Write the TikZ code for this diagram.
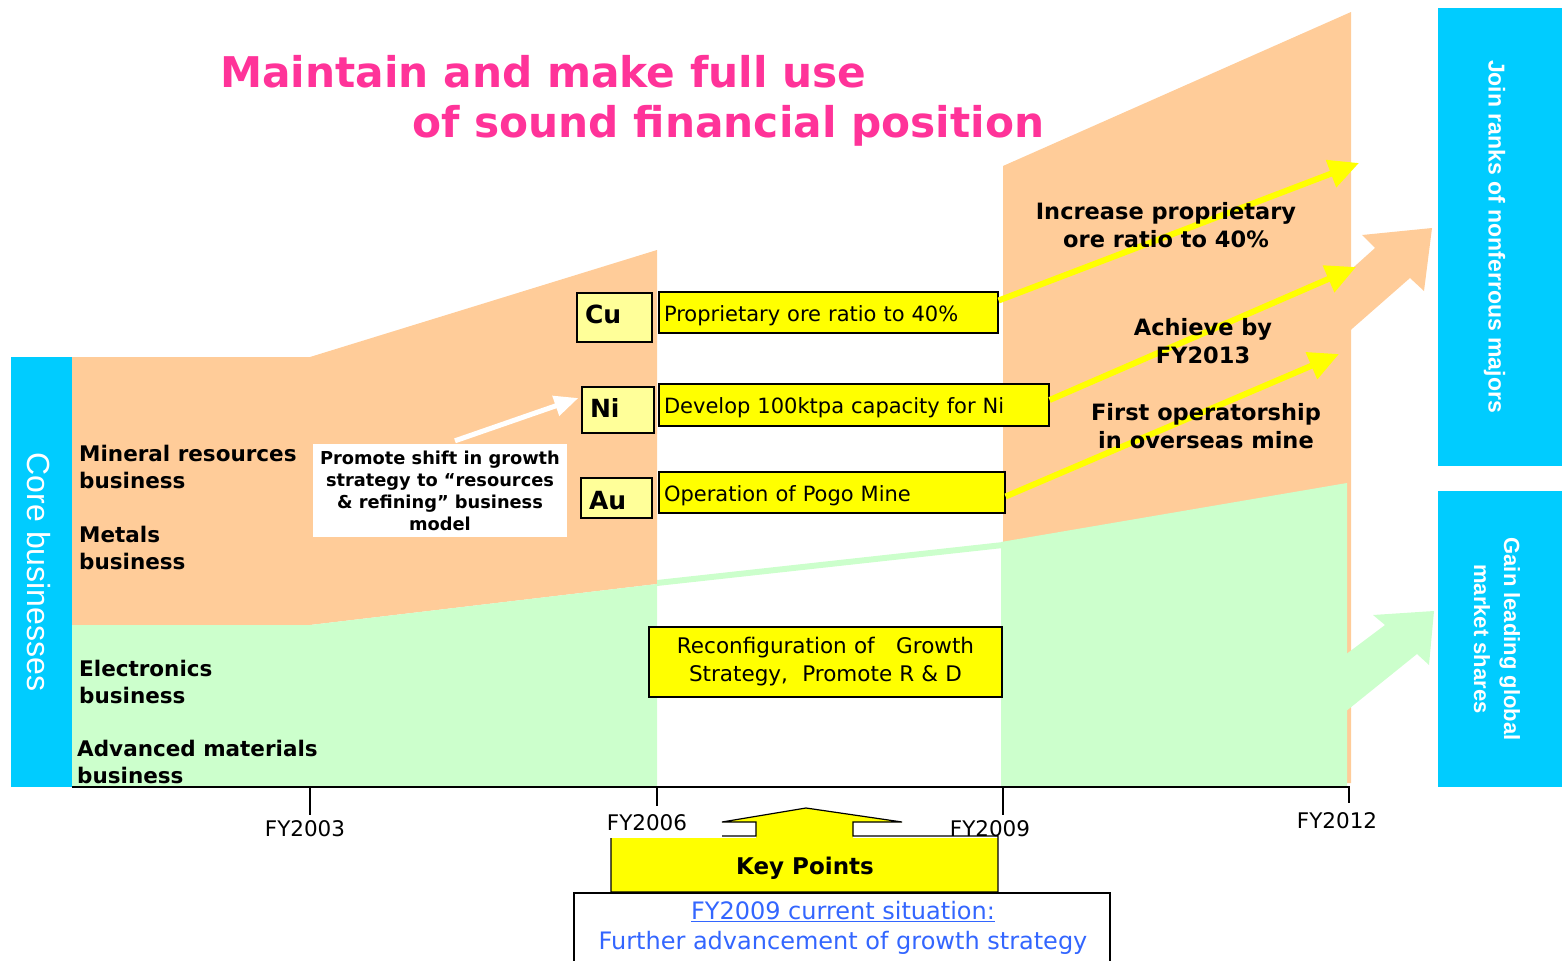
\documentclass[tikz,border=0pt]{standalone}
\usepackage{fontspec}
\setmainfont{DejaVu Sans}
\newfontfamily\sidefont{Liberation Sans}
\usetikzlibrary{arrows.meta}
\usetikzlibrary{calc}

\definecolor{orefill}{RGB}{255,204,153}
\definecolor{matfill}{RGB}{204,255,204}
\definecolor{sidecyan}{RGB}{0,204,255}
\definecolor{goalyellow}{RGB}{255,255,0}
\definecolor{elemyellow}{RGB}{255,255,153}
\definecolor{titlepink}{RGB}{255,51,153}
\definecolor{noteblue}{RGB}{51,102,255}

\tikzset{
  bizlabel/.style={anchor=base west, inner sep=0pt, align=left,
    font=\fontsize{21.5}{26.5}\selectfont\bfseries},
  aimlabel/.style={anchor=base, inner sep=0pt, align=center,
    font=\fontsize{22.5}{28}\selectfont\bfseries},
  yearlabel/.style={anchor=base, inner sep=0pt, font=\fontsize{21.5}{21.5}\selectfont},
  sidetext/.style={rotate=-90, inner sep=0pt, text=white, align=center},
  elembox/.style={draw, line width=1.2pt, fill=elemyellow, inner xsep=8pt, align=left,
    font=\fontsize{25}{25}\selectfont\bfseries},
  goalbox/.style={draw, line width=1.2pt, fill=goalyellow, inner xsep=5pt, align=left,
    font=\fontsize{21}{21}\selectfont},
  goalarrow/.style={goalyellow, line width=6pt, -{Triangle[length=30pt,width=28pt]}},
  shiftarrow/.style={white, line width=5pt, -{Triangle[length=24pt,width=20pt]}},
  tick/.style={line width=2.2pt}
}

\begin{document}
\begin{tikzpicture}[x=1pt,y=1pt,yscale=-1,xscale=1]
\clip (0,0) rectangle (1567,961);

%Shape: Rectangle (core bar)
\fill[sidecyan] (11,357) rectangle (72,787);
%Shape: Rectangles (goal bars)
\fill[sidecyan] (1438,8) rectangle (1562,466);
\fill[sidecyan] (1438,491) rectangle (1562,787);

%Shape: Polygon (resources and metals)
\fill[orefill] (72,357) -- (310,357) -- (657,250) -- (657,584) -- (310,625) -- (72,625) -- cycle;
\fill[orefill] (1003,166) -- (1351,12) -- (1351,783) -- (1003,783) -- cycle;
\fill[orefill] (1345,275) -- (1375,248) -- (1362,235) -- (1432,228) -- (1424,291) -- (1410,278) -- (1345,335) -- cycle;
%Shape: Polygon (electronics and materials)
\fill[matfill] (72,625) -- (310,625) -- (657,584) -- (657,787) -- (72,787) -- cycle;
\fill[matfill] (657,580) -- (1003,542) -- (1003,548) -- (657,586) -- cycle;
\fill[matfill] (1001,542) -- (1347,483) -- (1347,787) -- (1001,787) -- cycle;
\fill[matfill] (1345,655) -- (1385,625) -- (1373,615) -- (1434,611) -- (1429,665) -- (1417,654) -- (1345,712) -- cycle;

%Straight Lines (year axis)
\draw[line width=1.8pt] (72,787) -- (1350,787);
\draw[tick] (310,787) -- (310,815);
\draw[tick] (657,787) -- (657,806);
\draw[tick] (1003,787) -- (1003,815);
\draw[tick] (1349,787) -- (1349,803);

% Text Node
\node[yearlabel] (fy03) at (305,836) {FY2003};
\node[yearlabel] (fy06) at (647,830) {FY2006};
\node[yearlabel] (fy09) at (990,836) {FY2009};
\node[yearlabel] (fy12) at (1337,828) {FY2012};

%Shape: Up Arrow Callout
\fill[goalyellow] (611,838) rectangle (998,892);
\fill[goalyellow] (722,822) -- (806,808) -- (902,822) -- (853,822) -- (853,838) -- (756,838) -- (756,822) -- cycle;
\draw[line width=1.2pt] (722,836) -- (756,836) -- (756,822) -- (722,822) -- (806,808) -- (902,822) -- (853,822) -- (853,836) -- (998,836) -- (998,892) -- (611,892) -- (611,838);
\node[anchor=base, inner sep=0pt, font=\fontsize{23}{23}\selectfont\bfseries] (keyPoints) at (805,874) {Key Points};

%Shape: Rectangle (situation)
\draw[line width=1.2pt, fill=white] (574,893) rectangle (1110,980);
\node[anchor=base, inner sep=0pt, align=center, text=noteblue, font=\fontsize{24}{30}\selectfont] (situation) at (843,949)
  {\underline{FY2009 current situation:}\\Further advancement of growth strategy};

% Element boxes
\node[elembox, minimum width=75pt, minimum height=49pt, text width=59pt, text height=18pt, text depth=7pt] (cuElem) at (614.5,317.5) {Cu};
\node[elembox, minimum width=72pt, minimum height=46pt, text width=56pt, text height=18pt, text depth=3.4pt] (niElem) at (618,410) {Ni};
\node[elembox, minimum width=71pt, minimum height=40pt, text width=55pt, text height=22pt, text depth=0pt] (auElem) at (616.5,498) {Au};

% Goal boxes
\node[goalbox, minimum width=339pt, minimum height=41pt, text width=329pt, text height=18.4pt, text depth=0pt] (cuGoal) at (828.5,312.5) {Proprietary ore ratio to 40\%};
\node[goalbox, minimum width=390pt, minimum height=42pt, text width=380pt, text height=16.6pt, text depth=0pt] (niGoal) at (854,405) {Develop 100ktpa capacity for Ni};
\node[goalbox, minimum width=346pt, minimum height=41pt, text width=336pt, text height=18.4pt, text depth=0pt] (auGoal) at (832,492.5) {Operation of Pogo Mine};
\node[goalbox, align=center, minimum width=353pt, minimum height=70pt, text width=343pt,
  font=\fontsize{21.5}{28}\selectfont] (rdGoal) at (825.5,662) {Reconfiguration of\ \ \ Growth\\Strategy,\ \ Promote R \& D};

% Shift box
\node[fill=white, minimum width=254pt, minimum height=93pt, inner sep=0pt, align=center,
  font=\fontsize{17.8}{22}\selectfont\bfseries] (shiftBox) at (440,490.5)
  {Promote shift in growth\\strategy to \textquotedblleft resources\\\& refining\textquotedblright{} business\\model};
\draw[shiftarrow] ($(shiftBox.north)+(15,-3)$) -- ($(niElem.west)+(-3,-12)$);

% Arrows to targets
\coordinate (cuTarget) at (1359,163);
\coordinate (niTarget) at (1356,267);
\coordinate (auTarget) at (1339,354);
\draw[goalarrow] ($(cuGoal.east)+(0,-12)$) -- (cuTarget);
\draw[goalarrow] ($(niGoal.east)+(0,-5)$) -- (niTarget);
\draw[goalarrow] ($(auGoal.east)+(0,4)$) -- (auTarget);

% Text Node
\node[bizlabel] (mineral) at (79,488) {Mineral resources\\business};
\node[bizlabel] (metals) at (79,569) {Metals\\business};
\node[bizlabel] (electronics) at (79,703) {Electronics\\business};
\node[bizlabel] (advanced) at (77,783) {Advanced materials\\business};

\node[aimlabel] (oreAim) at (1166,247) {Increase proprietary\\ore ratio to 40\%};
\node[aimlabel] (achieveAim) at (1203,363) {Achieve by\\FY2013};
\node[aimlabel] (mineAim) at (1206,448) {First operatorship\\in overseas mine};

% Title
\node[anchor=base west, inner sep=0pt, text=titlepink, font=\fontsize{42.3}{42.3}\selectfont\bfseries] (titleA) at (220,87) {Maintain and make full use};
\node[anchor=base west, inner sep=0pt, text=titlepink, font=\fontsize{42.3}{42.3}\selectfont\bfseries] (titleB) at (412,137) {of sound financial position};

% Rotated side texts
\node[sidetext, font=\sidefont\fontsize{32}{32}\selectfont] (coreText) at (38.5,572) {Core businesses};
\node[sidetext, font=\sidefont\fontsize{23}{23}\selectfont\bfseries] (majorsText) at (1494.5,236.5) {Join ranks of nonferrous majors};
\node[sidetext, font=\sidefont\fontsize{22}{30}\selectfont\bfseries] (sharesText) at (1497,639) {Gain leading global\\market shares};

\end{tikzpicture}
\end{document}
